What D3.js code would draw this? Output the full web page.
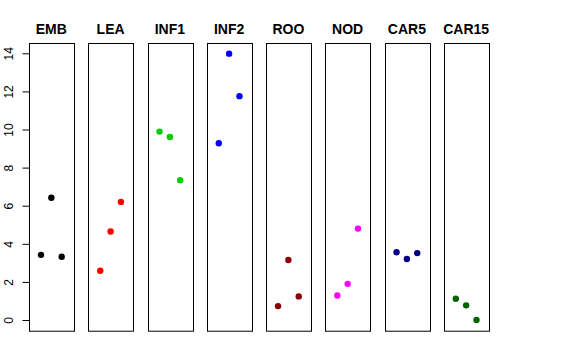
<!DOCTYPE html>
<html>
<head>
<meta charset="utf-8">
<script src="https://cdn.jsdelivr.net/npm/d3@7"></script>
<style>
  body { margin: 0; background: #fff; }
  svg { display: block; font-family: "Liberation Sans", Arial, sans-serif; }
</style>
</head>
<body>
<div id="chart"></div>
<script>
// panel names and colours
var groups = ["EMB", "LEA", "INF1", "INF2", "ROO", "NOD", "CAR5", "CAR15"];
var colors = ["#000000", "#FF0000", "#00CD00", "#0000FF", "#8B0000", "#FF00FF", "#000080", "#006400"];

// three values per panel, plotted at x = 1, 2, 3
var EMB = [3.42, 6.42, 3.32];
var LEA = [2.59, 4.65, 6.20];
var INF1 = [9.89, 9.61, 7.34];
var INF2 = [9.28, 13.98, 11.75];
var ROO = [0.73, 3.15, 1.24];
var NOD = [1.29, 1.90, 4.80];
var CAR5 = [3.56, 3.20, 3.51];
var CAR15 = [1.12, 0.77, 0.00];
var values = [EMB, LEA, INF1, INF2, ROO, NOD, CAR5, CAR15];

var yTicks = [0, 2, 4, 6, 8, 10, 12, 14];

var w = 576, h = 360;
var plotTop = 43, plotBottom = 330.7;

var svg = d3.select("#chart")
    .append("svg")
    .attr("width", w)
    .attr("height", h);

// one band per panel
var band = d3.scaleBand()
    .domain(groups)
    .range([29, 488.5])
    .paddingInner(0.246)
    .paddingOuter(0);

// shared y scale (R style 4% padding)
var yScale = d3.scaleLinear()
    .domain([-0.56, 14.54])
    .range([plotBottom, plotTop]);

groups.forEach(function(name, i) {
    var x0 = band(name);
    var xScale = d3.scaleLinear()
        .domain([-0.16, 4.16])
        .range([x0, x0 + band.bandwidth()]);

    var g = svg.append("g");

    // panel box
    g.append("rect")
        .attr("x", Math.round(x0) + 0.5)
        .attr("y", plotTop + 0.5)
        .attr("width", Math.round(band.bandwidth()))
        .attr("height", plotBottom - plotTop)
        .attr("fill", "none")
        .attr("stroke", "#000")
        .attr("stroke-width", 1);

    // title
    g.append("text")
        .attr("x", x0 + band.bandwidth() / 2)
        .attr("y", 34)
        .attr("text-anchor", "middle")
        .style("font-weight", "bold")
        .style("font-size", "14px")
        .text(name);

    // points
    g.selectAll("circle")
        .data(values[i])
        .enter()
        .append("circle")
        .attr("cx", (d, j) => xScale(j + 1))
        .attr("cy", d => yScale(d))
        .attr("r", 3.2)
        .attr("fill", colors[i]);
});

// y axis on the first panel
var axis = svg.append("g")
    .attr("transform", "translate(" + (Math.round(band(groups[0])) + 0.5) + ",0)")
    .call(d3.axisLeft(yScale).tickValues(yTicks).tickSize(7).tickPadding(0));

axis.select(".domain").remove();
axis.append("line")
    .attr("y1", yScale(0))
    .attr("y2", yScale(14))
    .attr("stroke", "#000");

axis.selectAll(".tick line").attr("stroke", "#000");
axis.selectAll(".tick text")
    .attr("x", null)
    .attr("dy", null)
    .attr("fill", "#000")
    .attr("text-anchor", "middle")
    .attr("transform", "translate(-16.5,0) rotate(-90)")
    .style("font-size", "12px")
    .style("font-family", "Liberation Sans, Arial, sans-serif");
</script>
</body>
</html>
